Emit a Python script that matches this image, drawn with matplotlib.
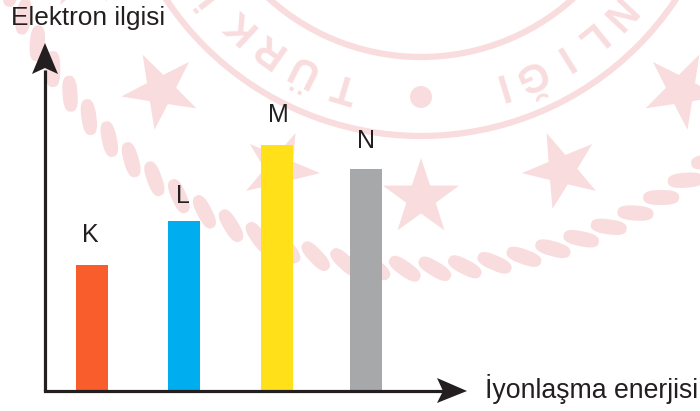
import numpy as np
import matplotlib
matplotlib.use("Agg")
import matplotlib.pyplot as plt
from matplotlib.patches import Circle, Polygon

plt.rcParams['font.family'] = ['Liberation Sans', 'DejaVu Sans']

# chart data (heights measured from the x axis)
categories = ['K', 'L', 'M', 'N']
bar_positions = [92, 184, 277, 366]
values = [125, 169, 245, 221]
bar_colors = ['#F95D2B', '#00AEEF', '#FFE019', '#A7A8AA']
xlabel = 'İyonlaşma enerjisi'
ylabel = 'Elektron ilgisi'

# seal letters: (letter, angle from the bottom of the seal)
seal_letters = [('İ', -52), ('K', -42.9), ('R', -35), ('Ü', -26.6), ('T', -16.6),
                ('I', 17), ('Ğ', 24), ('I', 31.7), ('L', 39), ('N', 46.8)]
star_angles = [-67.5, -45, -22.5, 0, 22.5, 45]

PINK = '#F9DCDE'
DARK = '#231F20'
CX, CY = 421, -170  # seal center, pixels from the top left


def py(y):
    # picture row -> y value
    return 390 - y


def on_seal(radius, angle):
    a = np.radians(angle)
    return CX + radius * np.sin(a), py(CY + radius * np.cos(a))


def strand(x, y, angle):
    # rounded rope strand, a superellipse turned to the given angle
    t = np.linspace(0, 2 * np.pi, 40, endpoint=False)
    u = 18 * np.sign(np.cos(t)) * np.abs(np.cos(t)) ** 0.75
    v = 7.5 * np.sign(np.sin(t)) * np.abs(np.sin(t)) ** 0.75
    a = np.radians(angle)
    return np.column_stack([x + u * np.cos(a) - v * np.sin(a), y + u * np.sin(a) + v * np.cos(a)])


fig = plt.figure(figsize=(7, 4.11), dpi=100)
ax = fig.add_axes([0, 0, 1, 1])
ax.set_xlim(0, 700)
ax.set_ylim(-21, 390)
ax.axis('off')

# watermark
ax.add_patch(Circle((CX, py(CY)), 306, fill=False, ec=PINK, lw=4.5, zorder=1))
ax.add_patch(Circle((CX, py(CY)), 227, fill=False, ec=PINK, lw=4.5, zorder=1))
ax.add_patch(Circle((CX, py(97)), 11, fc=PINK, ec='none', zorder=1))

for angle in np.arange(1.8 - 3.92 * 20, 70, 3.92):
    x, y = on_seal(439, angle)
    ax.add_patch(Polygon(strand(x, y, angle - 33), fc=PINK, ec='none', zorder=1))

for angle in star_angles:
    x, y = on_seal(368, angle)
    t = np.radians(angle) + np.arange(10) * np.pi / 5
    r = np.where(np.arange(10) % 2 == 0, 40, 15.5)
    ax.add_patch(Polygon(np.column_stack([x - r * np.sin(t), y + r * np.cos(t)]),
                         fc=PINK, ec='none', zorder=1))

for letter, angle in seal_letters:
    x, y = on_seal(267, angle)
    ax.text(x, y, letter, fontsize=29, fontweight='bold', color=PINK, ha='center', va='center',
            rotation=180 + angle, rotation_mode='anchor', zorder=1, clip_on=True)

# bars
ax.bar(bar_positions, values, width=32, color=bar_colors, zorder=2)

# axes with arrow heads
ax.plot([45, 45], [py(391), py(70)], color=DARK, lw=2.3, zorder=3, solid_capstyle='butt')
ax.plot([45, 445], [py(391), py(391)], color=DARK, lw=2.3, zorder=3, solid_capstyle='projecting')
ax.add_patch(Polygon([(45, py(43)), (58, py(74)), (45, py(68)), (32, py(74))],
                     fc=DARK, ec='none', zorder=3))
ax.add_patch(Polygon([(467, py(391)), (437, py(403)), (443, py(391)), (437, py(378))],
                     fc=DARK, ec='none', zorder=3))

# text
for name, x, y in zip(categories, [90, 183, 278, 366], [235, 196, 115, 141]):
    ax.text(x, py(y), name, fontsize=18, color=DARK, ha='center', va='center', zorder=4)
ax.text(11, py(18), ylabel, fontsize=18.9, color=DARK, ha='left', va='center', zorder=4)
ax.text(485, py(389), xlabel, fontsize=19.2, color=DARK, ha='left', va='center', zorder=4)

fig.savefig('out.png', dpi=100)
